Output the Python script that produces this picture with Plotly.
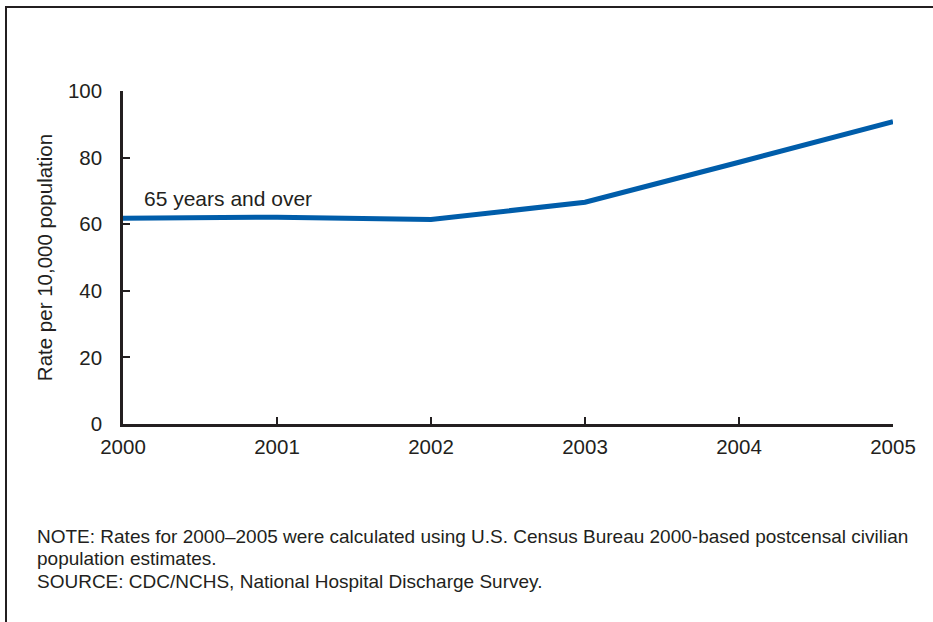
import plotly.graph_objects as go

years = [2000, 2001, 2002, 2003, 2004, 2005]
rates = [61.8, 62.1, 61.4, 66.6, 78.6, 90.8]
y_ticks = [0, 20, 40, 60, 80, 100]
series_label = "65 years and over"
y_title = "Rate per 10,000 population"
note_lines = [
    "NOTE: Rates for 2000\u20132005 were calculated using U.S. Census Bureau 2000-based postcensal civilian",
    "population estimates.",
    "SOURCE: CDC/NCHS, National Hospital Discharge Survey.",
]

W, H = 933, 622
L, R, T, B = 123, 40, 91, 198
pw, ph = W - L - R, H - T - B

def px_x(x):
    return (x - L) / pw

def px_y(y):
    return (H - B - y) / ph

font = "Liberation Sans, Arial, Helvetica, sans-serif"
axis_col = "#231f20"
fs = 20.5

fig = go.Figure()
fig.add_trace(go.Scatter(
    x=years, y=rates, mode="lines",
    line=dict(color="#005DAA", width=5),
    showlegend=False, hoverinfo="x+y",
))

fig.update_layout(
    width=W, height=H,
    margin=dict(l=L, r=R, t=T, b=B),
    paper_bgcolor="white", plot_bgcolor="white",
    font=dict(family=font, size=fs, color=axis_col),
    xaxis=dict(
        range=[2000, 2005], tickvals=years, ticktext=[str(y) for y in years],
        ticks="inside", ticklen=7, tickwidth=2, tickcolor=axis_col,
        showline=True, linecolor=axis_col, linewidth=2.5,
        showgrid=False, zeroline=False, ticklabelstandoff=3,
        tickfont=dict(size=fs),
    ),
    yaxis=dict(
        range=[0, 100], tickvals=y_ticks,
        ticks="inside", ticklen=7, tickwidth=2, tickcolor=axis_col,
        showline=True, linecolor=axis_col, linewidth=2.5,
        showgrid=False, zeroline=False, ticklabelstandoff=14,
        tickfont=dict(size=fs),
        title=dict(text=y_title, font=dict(size=fs), standoff=10),
    ),
)

fig.add_annotation(
    x=px_x(142), y=px_y(212), xref="paper", yref="paper",
    text=series_label, showarrow=False, xanchor="left", yanchor="bottom",
    font=dict(size=21, color=axis_col),
)

note_y = [536, 558, 581]
for txt, yy in zip(note_lines, note_y):
    fig.add_annotation(
        x=px_x(35), y=px_y(yy), xref="paper", yref="paper",
        text=txt, showarrow=False, xanchor="left", yanchor="middle",
        font=dict(size=19, color=axis_col),
    )

# outer frame
fig.add_shape(
    type="rect", xref="paper", yref="paper",
    x0=px_x(6), x1=px_x(W + 10), y0=px_y(H + 10), y1=px_y(7),
    line=dict(color=axis_col, width=2), layer="below",
)

fig.write_html(
    "out.html",
    config={"displayModeBar": False},
    post_script="document.body.style.margin='0px';document.body.style.overflow='hidden';",
)
